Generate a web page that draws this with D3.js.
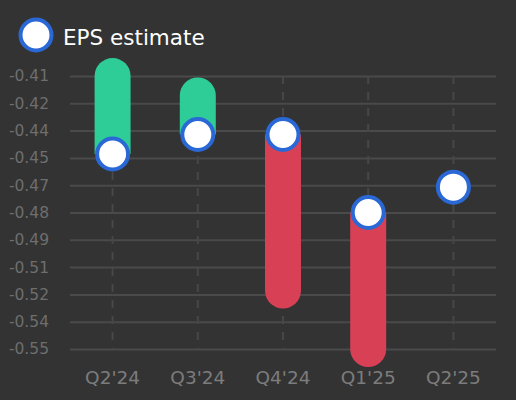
<!DOCTYPE html>
<html>
<head>
<meta charset="utf-8">
<script src="https://cdn.jsdelivr.net/npm/d3@7"></script>
<style>
  html, body { margin: 0; padding: 0; background: #333333; }
  svg { display: block; font-family: "DejaVu Sans", sans-serif; }
</style>
</head>
<body>
<svg class="epsChart" width="516" height="400"></svg>
<script>
// quarters on the x axis
var categories = ["Q2'24", "Q3'24", "Q4'24", "Q1'25", "Q2'25"];
// EPS estimate (circle) and reported EPS (end of the bar)
var estimates = [-0.45, -0.44, -0.44, -0.48, -0.467];
var actuals = [-0.41, -0.42, -0.52, -0.55, null];
// y tick values, shown with 2 decimals
var yTicks = [-0.41, -0.424, -0.438, -0.452, -0.466, -0.48, -0.494, -0.508, -0.522, -0.536, -0.55];

var svg = d3.select(".epsChart"),
    margin = {top: 76, right: 20, bottom: 51, left: 70},
    width = +svg.attr("width") - margin.left - margin.right,
    height = +svg.attr("height") - margin.top - margin.bottom;

var x = d3.scaleBand().domain(categories).range([0, width]),
    y = d3.scaleLinear().domain([-0.55, -0.41]).range([height, 0]);

// plain hyphen for the minus sign
var fmt = d3.formatLocale({decimal: ".", thousands: ",", grouping: [3], currency: ["$", ""], minus: "-"}).format(".2f");

var g = svg.append("g")
  .attr("transform", "translate(" + margin.left + "," + margin.top + ")");

function cx(d) { return x(d) + x.bandwidth() / 2; }

// horizontal grid + y labels
var yAxis = g.append("g")
  .attr("class", "axis axis--y")
  .call(d3.axisLeft(y).tickValues(yTicks).tickFormat(fmt).tickSize(-width).tickPadding(21))
  .attr("font-family", "DejaVu Sans");
yAxis.select(".domain").remove();
yAxis.selectAll("line").attr("stroke", "#4a4a4a").attr("stroke-width", 2);
yAxis.selectAll("text").attr("fill", "#6e6e6e").attr("font-size", "15.5px");

// vertical dashed lines
g.append("g").selectAll("line")
  .data(categories)
  .enter().append("line")
  .attr("x1", cx).attr("x2", cx)
  .attr("y1", 0).attr("y2", height)
  .attr("stroke", "#474747")
  .attr("stroke-width", 2)
  .attr("stroke-dasharray", "8,8");

// x labels
var xAxis = g.append("g")
  .attr("class", "axis axis--x")
  .attr("transform", "translate(0," + height + ")")
  .call(d3.axisBottom(x).tickSize(0).tickPadding(22))
  .attr("font-family", "DejaVu Sans");
xAxis.select(".domain").remove();
xAxis.selectAll("text").attr("fill", "#7c7c7c").attr("font-size", "18.5px");

// bars from estimate to actual, rounded only at the actual end
var rows = categories.map(function(c, i) { return {cat: c, est: estimates[i], act: actuals[i]}; });
var half = 18;

function barPath(d) {
  var c = cx(d.cat), ye = y(d.est), ya = y(d.act),
      sweep = ya < ye ? 1 : 0;
  return "M" + (c - half) + "," + ye +
    "L" + (c - half) + "," + ya +
    "A" + half + "," + half + " 0 0 " + sweep + " " + (c + half) + "," + ya +
    "L" + (c + half) + "," + ye + "Z";
}

g.selectAll(".bar")
  .data(rows.filter(function(d) { return d.act !== null; }))
  .enter().append("path")
  .attr("class", "bar")
  .attr("d", barPath)
  .attr("fill", function(d) { return d.act >= d.est ? "#2ecc96" : "#d84055"; });

g.selectAll(".est")
  .data(rows)
  .enter().append("circle")
  .attr("class", "est")
  .attr("cx", function(d) { return cx(d.cat); })
  .attr("cy", function(d) { return y(d.est); })
  .attr("r", 15.5)
  .attr("fill", "#ffffff")
  .attr("stroke", "#2a69d5")
  .attr("stroke-width", 4);

// legend
var legend = svg.append("g").attr("transform", "translate(36,35)");
legend.append("circle")
  .attr("r", 15.5)
  .attr("fill", "#ffffff")
  .attr("stroke", "#2a69d5")
  .attr("stroke-width", 4);
legend.append("text")
  .attr("x", 27)
  .attr("y", 9.5)
  .attr("fill", "#ffffff")
  .attr("font-size", "21.5px")
  .text("EPS estimate");
</script>
</body>
</html>
